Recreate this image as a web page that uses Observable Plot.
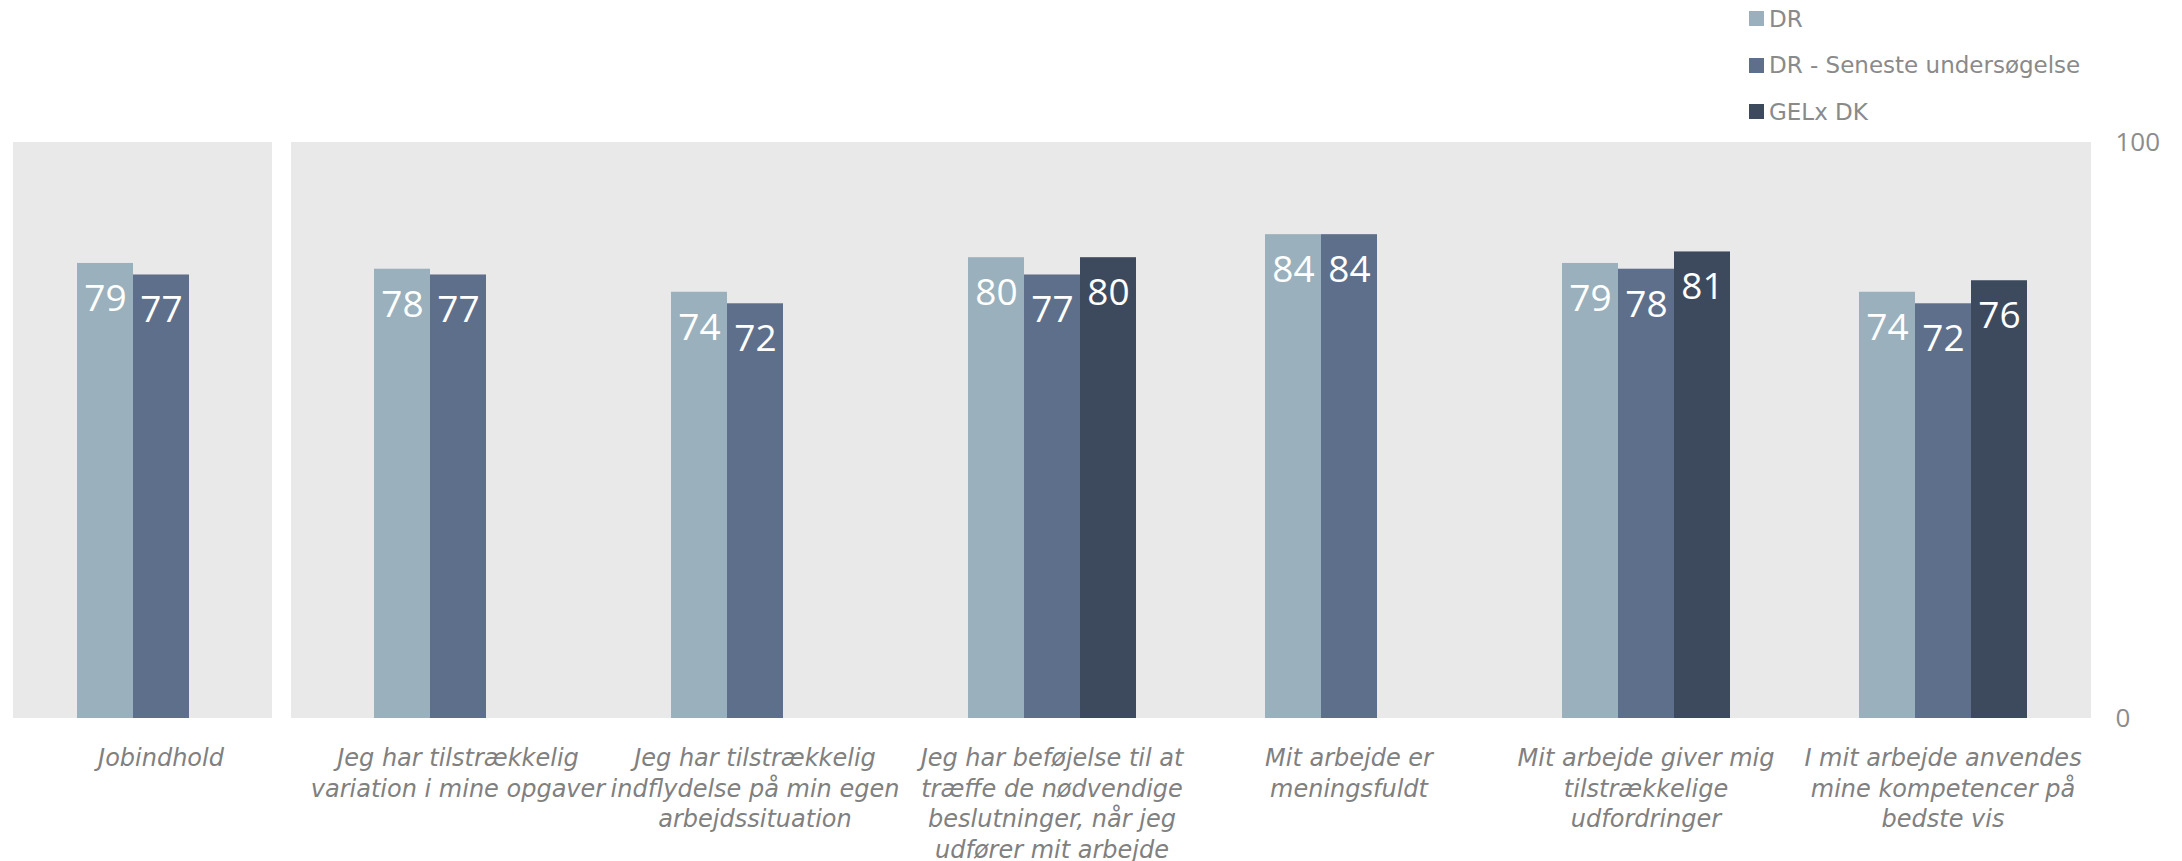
<!DOCTYPE html>
<html>
<head>
<meta charset="utf-8">
<script src="https://cdn.jsdelivr.net/npm/d3@7"></script>
<script src="https://cdn.jsdelivr.net/npm/@observablehq/plot@0.6"></script>
<style>
  html, body { margin: 0; padding: 0; background: #ffffff; }
  #wrap { position: relative; width: 2182px; height: 861px; font-family: "DejaVu Sans", sans-serif; }
  .legend-row { position: absolute; left: 1749px; height: 30px; display: flex; align-items: center; font-size: 23px; color: #8a8a8a; white-space: nowrap; }
  .legend-sw { width: 15px; height: 15px; margin-right: 5px; flex: none; }
</style>
</head>
<body>
<div id="wrap"></div>
<script>
// ---- data ----
const categories = [
  "Jobindhold",
  "Jeg har tilstrækkelig variation i mine opgaver",
  "Jeg har tilstrækkelig indflydelse på min egen arbejdssituation",
  "Jeg har beføjelse til at træffe de nødvendige beslutninger, når jeg udfører mit arbejde",
  "Mit arbejde er meningsfuldt",
  "Mit arbejde giver mig tilstrækkelige udfordringer",
  "I mit arbejde anvendes mine kompetencer på bedste vis"
];
const categoryLabels = [
  "Jobindhold",
  "Jeg har tilstrækkelig\nvariation i mine opgaver",
  "Jeg har tilstrækkelig\nindflydelse på min egen\narbejdssituation",
  "Jeg har beføjelse til at\ntræffe de nødvendige\nbeslutninger, når jeg\nudfører mit arbejde",
  "Mit arbejde er\nmeningsfuldt",
  "Mit arbejde giver mig\ntilstrækkelige\nudfordringer",
  "I mit arbejde anvendes\nmine kompetencer på\nbedste vis"
];
const seriesNames = ["DR", "DR - Seneste undersøgelse", "GELx DK"];
const drValues      = [79, 78, 74, 80, 84, 79, 74];
const senesteValues = [77, 77, 72, 77, 84, 78, 72];
const gelxValues    = [null, null, null, 80, null, 81, 76];
const yTicks = [0, 100];
const panelOne = ["Jobindhold"];

// ---- styles ----
const seriesColors = {"DR": "#9ab1bd", "DR - Seneste undersøgelse": "#5e6f8b", "GELx DK": "#3d4a5e"};
const panelColor = "#e9e9e9";
const textGray = "#808080";

// ---- tables ----
const valuesBySeries = [drValues, senesteValues, gelxValues];
const rows = [];
categories.forEach((c, i) => {
  seriesNames.forEach((s, j) => {
    const v = valuesBySeries[j][i];
    if (v != null) rows.push({cat: c, series: s, value: v});
  });
});
const catRows = categories.map((c, i) => ({cat: c, label: categoryLabels[i]}));
const bgFirst = catRows.filter(d => panelOne.includes(d.cat));
const bgRest = catRows.filter(d => !panelOne.includes(d.cat));
const bgRestStart = bgRest.slice(0, 1);
const bgRestOther = bgRest.slice(1);

const chart = Plot.plot({
  width: 2182,
  height: 861,
  marginTop: 142,
  marginBottom: 143,
  marginLeft: 11,
  marginRight: 91,
  style: {fontFamily: "'Open Sans', sans-serif", background: "transparent", overflow: "visible"},
  fx: {domain: categories, paddingInner: 0, paddingOuter: 0, axis: null, label: null},
  x: {domain: seriesNames, paddingInner: 0, paddingOuter: 1.106, axis: null, label: null},
  y: {domain: [0, 100], label: null},
  marks: [
    Plot.barY(bgFirst, {fx: "cat", y1: yTicks[0], y2: yTicks[1], fill: panelColor, insetLeft: 1, insetRight: 37}),
    Plot.barY(bgRestStart, {fx: "cat", y1: yTicks[0], y2: yTicks[1], fill: panelColor, insetLeft: -18, insetRight: -0.5}),
    Plot.barY(bgRestOther, {fx: "cat", y1: yTicks[0], y2: yTicks[1], fill: panelColor, insetLeft: -0.5, insetRight: 0}),
    Plot.barY(rows, {fx: "cat", x: "series", y: "value", fill: d => seriesColors[d.series], insetLeft: 0, insetRight: 0}),
    Plot.text(rows, {fx: "cat", x: "series", y: "value", text: d => String(d.value), lineAnchor: "top", dy: 21, fill: "white", fontSize: 37}),
    Plot.text(catRows, {fx: "cat", text: "label", frameAnchor: "bottom", lineAnchor: "top", dy: 26, fontSize: 24, fontStyle: "italic", fontFamily: "'DejaVu Sans', sans-serif", fill: textGray, lineHeight: 1.275}),
    Plot.axisY({anchor: "right", ticks: yTicks, tickSize: 0, tickPadding: 24, fontSize: 26, color: "#8c8c8c", textAnchor: "start", label: null})
  ]
});

const wrap = document.getElementById("wrap");
wrap.appendChild(chart);
chart.style.position = "absolute";
chart.style.left = "0px";
chart.style.top = "0px";

// legend
seriesNames.forEach((s, i) => {
  const row = document.createElement("div");
  row.className = "legend-row";
  row.style.top = (3.5 + i * 46.5) + "px";
  const sw = document.createElement("span");
  sw.className = "legend-sw";
  sw.style.background = seriesColors[s];
  const tx = document.createElement("span");
  tx.textContent = s;
  row.appendChild(sw);
  row.appendChild(tx);
  wrap.appendChild(row);
});
</script>
</body>
</html>
